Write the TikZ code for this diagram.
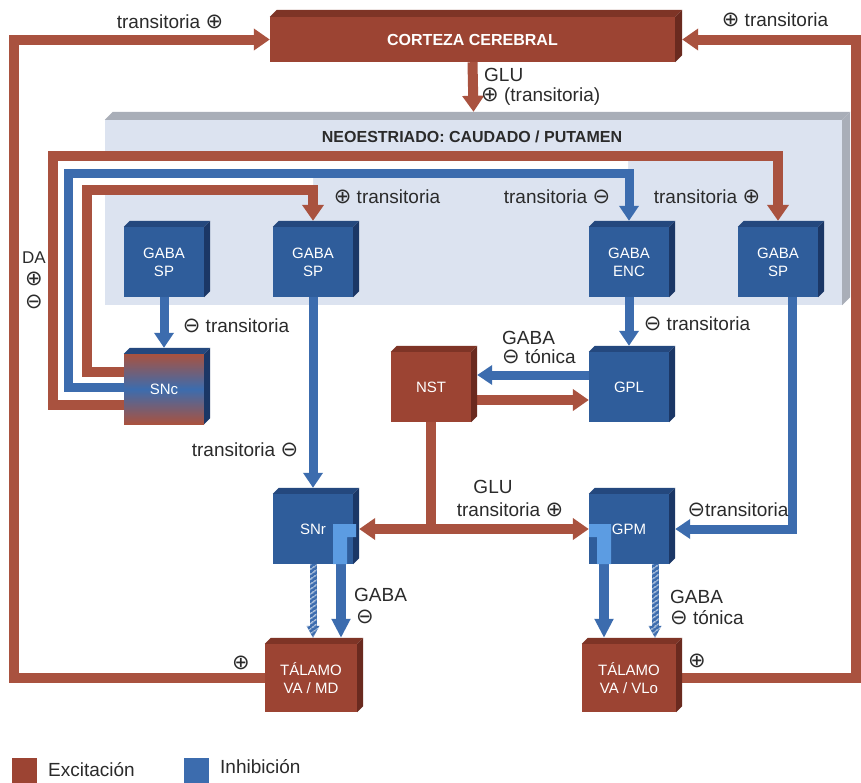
\documentclass[tikz,border=0pt]{standalone}
\usepackage{fontspec}
\setmainfont{Liberation Sans}
\newfontfamily\symfont{DejaVu Sans}
\usetikzlibrary{arrows.meta,patterns.meta}
\pgfdeclarelayer{back}
\pgfdeclarelayer{wires}
\pgfsetlayers{back,wires,main}

\definecolor{exc}{HTML}{A9523F}
\definecolor{excbox}{HTML}{9C4433}
\definecolor{excdark}{HTML}{6A2A1F}
\definecolor{exctop}{HTML}{7E3426}
\definecolor{inh}{HTML}{3C6CAE}
\definecolor{inhbox}{HTML}{2F5D9B}
\definecolor{inhdark}{HTML}{1B3766}
\definecolor{inhtop}{HTML}{24487E}
\definecolor{inhlight}{HTML}{5C9CE2}
\definecolor{neo}{HTML}{DCE3F0}
\definecolor{neoside}{HTML}{A9AEB8}
\definecolor{txt}{HTML}{2B2B2B}

\newcommand\pl{{\symfont\fontsize{21}{21}\selectfont ⊕}}
\newcommand\mn{{\symfont\fontsize{21}{21}\selectfont ⊖}}

% oblique top and right faces of a block node
\newcommand\boxfaces[4]{%
  \fill[#3] (#1.north west) -- ([shift={(#2pt,#2pt)}]#1.north west)
     -- ([shift={(#2pt,#2pt)}]#1.north east) -- (#1.north east) -- cycle;
  \fill[#4] (#1.north east) -- ([shift={(#2pt,#2pt)}]#1.north east)
     -- ([shift={(#2pt,#2pt)}]#1.south east) -- (#1.south east) -- cycle;
}

% tonic (striped) projection from coordinate #1 down to tip #2
\tikzset{ropestripes/.style={pattern={Lines[angle=35,distance=4pt,line width=1pt]},pattern color=white}}
\newcommand\stripedwire[2]{%
  \fill[inh] ([xshift=-3.5pt]#1) rectangle ([xshift=3.5pt,yshift=11pt]#2);
  \fill[ropestripes] ([xshift=-3.5pt]#1) rectangle ([xshift=3.5pt,yshift=11pt]#2);
  \fill[inh] ([xshift=-6.5pt,yshift=12pt]#2) -- ([xshift=6.5pt,yshift=12pt]#2) -- (#2) -- cycle;
  \fill[ropestripes] ([xshift=-6.5pt,yshift=12pt]#2) -- ([xshift=6.5pt,yshift=12pt]#2) -- (#2) -- cycle;
}

\tikzset{
  exc wire/.style={draw=exc, line width=10pt, -{Triangle[width=21pt,length=16pt]}},
  inh wire/.style={draw=inh, line width=9pt, -{Triangle[width=19pt,length=15pt]}},
  inh thick/.style={draw=inh, line width=10pt, -{Triangle[width=18pt,length=19pt]}},
  blk/.style={minimum width=80pt, minimum height=70pt, inner sep=0pt, align=center,
              text=white, font=\fontsize{15}{18}\selectfont},
  inhblk/.style={blk, fill=inhbox},
  excblk/.style={blk, fill=excbox},
  lbl/.style={text=txt, font=\fontsize{19}{22}\selectfont, inner sep=0pt, align=left},
}

\begin{document}
\begin{tikzpicture}[x=1pt,y=-1pt]
\useasboundingbox (0,0) rectangle (861,782);

\begin{pgfonlayer}{back}
  \fill[white] (0,0) rectangle (861,782);
  \node[fill=neo, minimum width=737pt, minimum height=185pt, inner sep=0pt] (neo) at (473.5,212.5) {};
  \boxfaces{neo}{8}{neoside}{neoside}
\end{pgfonlayer}

% blocks
\node[excblk, minimum width=405pt, minimum height=45pt,
      font=\bfseries\fontsize{16}{18}\selectfont] (cortex) at (472.5,39.5) {CORTEZA CEREBRAL};
\boxfaces{cortex}{7}{exctop}{excdark}

\node[text=txt, inner sep=0pt, font=\bfseries\fontsize{16}{18}\selectfont] (neotitle) at (472,137)
  {NEOESTRIADO: CAUDADO / PUTAMEN};

\node[inhblk] (sp1) at (164,262) {GABA\\SP};
\node[inhblk] (sp2) at (313,262) {GABA\\SP};
\node[inhblk] (enc) at (629,262) {GABA\\ENC};
\node[inhblk] (sp4) at (778,262) {GABA\\SP};
\foreach \n in {sp1,sp2,enc,sp4} {\boxfaces{\n}{6}{inhtop}{inhdark}}

\node[blk, top color=exc, bottom color=exc, middle color=inh] (snc) at (164,389) {SNc};
\boxfaces{snc}{6}{inhtop}{inhdark}

\node[excblk] (nst) at (431,387) {NST};
\boxfaces{nst}{6}{exctop}{excdark}
\node[inhblk] (gpl) at (629,387) {GPL};
\boxfaces{gpl}{6}{inhtop}{inhdark}

\node[inhblk] (snr) at (313,529) {SNr};
\boxfaces{snr}{6}{inhtop}{inhdark}
\fill[inhlight] (333,524) -- (356,524) -- (356,537) -- (347,537) -- (347,564) -- (333,564) -- cycle;
\node[inhblk] (gpm) at (629,529) {GPM};
\boxfaces{gpm}{6}{inhtop}{inhdark}
\fill[inhlight] (589,524) -- (611,524) -- (611,564) -- (597,564) -- (597,537) -- (589,537) -- cycle;

\node[excblk, minimum width=92pt, minimum height=68pt] (tal1) at (311,678) {TÁLAMO\\VA / MD};
\boxfaces{tal1}{6}{exctop}{excdark}
\node[excblk, minimum width=94pt, minimum height=68pt] (tal2) at (629,678) {TÁLAMO\\VA / VLo};
\boxfaces{tal2}{6}{exctop}{excdark}

% bend points of the long loops
\coordinate (lc) at (14,39.5);
\coordinate (rc) at (856,39.5);
\coordinate (l1) at (53,156);
\coordinate (l2) at (68,173);
\coordinate (l3) at (87,190);
% start and end points of the thalamic projections
\coordinate (sa) at ([xshift=28pt]snr.south);
\path (sa |- tal1.north) ++(0,-6) coordinate (ta);
\coordinate (sb) at (snr.south);
\path (sb |- tal1.north) ++(0,-6) coordinate (tb);
\coordinate (ga) at ([xshift=-25pt]gpm.south);
\path (ga |- tal2.north) ++(0,-6) coordinate (gta);
\coordinate (gb) at ([xshift=26pt]gpm.south);
\path (gb |- tal2.north) ++(0,-6) coordinate (gtb);

\begin{pgfonlayer}{wires}
  % thalamo-cortical loops
  \draw[exc wire] (tal1.west) -| (lc) -- (cortex.west);
  \draw[exc wire] (tal2.east) -| (rc) -- ([xshift=7pt]cortex.east);
  \draw[exc wire] (cortex.south) -- ([yshift=8pt]neo.north);

  % nigrostriatal band
  \fill[white] (53,156) -- (628,156) -- (628,173) -- (313,173) -- (313,190)
               -- (87,190) -- (87,405) -- (53,405) -- cycle;
  \draw[exc wire] ([yshift=-16pt]snc.center) -| (l1) -| ([yshift=6pt]sp4.north);
  \draw[inh wire] ([yshift=2pt]snc.center) -| (l2) -| ([yshift=6pt]enc.north);
  \draw[exc wire] ([yshift=17pt]snc.center) -| (l3) -| ([yshift=6pt]sp2.north);

  % striatal outputs
  \draw[inh wire] (sp1.south) -- ([yshift=6pt]snc.north);
  \draw[inh wire] (sp2.south) -- ([yshift=6pt]snr.north);
  \draw[inh wire] (enc.south) -- ([yshift=6pt]gpl.north);
  \draw[inh wire] ([xshift=14pt]sp4.south) |- ([xshift=6pt]gpm.east);

  % GPL / NST
  \draw[inh wire] ([yshift=12pt]gpl.west) -- ([xshift=6pt,yshift=12pt]nst.east);
  \draw[exc wire] ([xshift=6pt,yshift=-13pt]nst.east) -- ([yshift=-13pt]gpl.west);
  \draw[exc wire] (nst.south) |- ([xshift=6pt]snr.east);
  \draw[exc wire] (nst.south) |- (gpm.west);

  % pallidal / nigral outputs to thalamus
  \draw[inh thick] (sa) -- (ta);
  \stripedwire{sb}{tb}
  \draw[inh thick] (ga) -- (gta);
  \stripedwire{gb}{gtb}
\end{pgfonlayer}

% labels
\node[lbl] (t1) at (170,22) {transitoria \pl};
\node[lbl] (t2) at (775,20) {\pl\ transitoria};
\node[lbl,anchor=west] (t3) at (484,75) {GLU};
\node[lbl,anchor=west] (t4) at (481,97) {\pl\ (transitoria)};
\node[lbl] (t5) at (387,197) {\pl\ transitoria};
\node[lbl] (t6) at (557,197) {transitoria \mn};
\node[lbl] (t7) at (707,197) {transitoria \pl};
\node[lbl,font=\fontsize{17}{20}\selectfont] (t8) at (34,258) {DA};
\node[lbl] (t9) at (34,279) {\pl};
\node[lbl] (t10) at (34,302) {\mn};
\node[lbl] (t11) at (236,326) {\mn\ transitoria};
\node[lbl] (t12) at (245,450) {transitoria \mn};
\node[lbl] (t13) at (697,324) {\mn\ transitoria};
\node[lbl,anchor=west] (t14) at (502,338) {GABA};
\node[lbl,anchor=west] (t15) at (502,357) {\mn\ tónica};
\node[lbl] (t16) at (493,487) {GLU};
\node[lbl] (t17) at (510,510) {transitoria \pl};
\node[lbl] (t18) at (738,510) {\mn transitoria};
\node[lbl,anchor=west] (t19) at (354,595) {GABA};
\node[lbl,anchor=west] (t20) at (356,617) {\mn};
\node[lbl,anchor=west] (t21) at (670,597) {GABA};
\node[lbl,anchor=west] (t22) at (670,618) {\mn\ tónica};
\node[lbl] (t23) at (241,663) {\pl};
\node[lbl] (t24) at (697,661) {\pl};

% legend
\node[fill=excbox, minimum size=25pt, inner sep=0pt] (legexc) at (24.5,770) {};
\node[lbl,anchor=west] (legexct) at (48,770) {Excitación};
\node[fill=inh, minimum size=25pt, inner sep=0pt] (leginh) at (196.5,770) {};
\node[lbl,anchor=west] (leginht) at (220,767) {Inhibición};
\end{tikzpicture}
\end{document}
